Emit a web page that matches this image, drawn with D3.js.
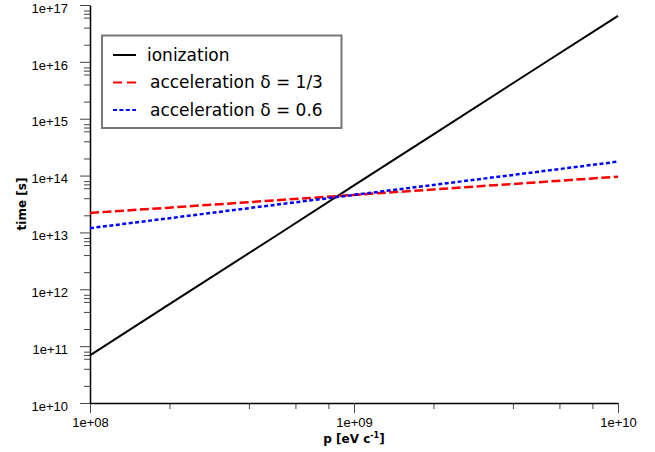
<!DOCTYPE html>
<html>
<head>
<meta charset="utf-8">
<script src="https://cdn.jsdelivr.net/npm/d3@7"></script>
<style>
  body { margin: 0; background: #fff; }
  svg { display: block; }
  .tick text { font-family: "Liberation Sans", Arial, sans-serif; font-size: 13px; fill: #000; }
  .axis-title { font-family: "DejaVu Sans", Verdana, sans-serif; font-size: 12px; font-weight: bold; }
  .legend text { font-family: "DejaVu Sans", Verdana, sans-serif; font-size: 17px; }
</style>
</head>
<body>
<svg id="chart" width="655" height="452"></svg>
<script>
'use strict';

// momentum values (eV/c)
const momentum = [1e8, 2e8, 5e8, 1e9, 2e9, 5e9, 1e10];

// time scales [s] for each process
const ionization = [6.9e10, 5.5e11, 8.4e12, 6.7e13, 5.3e14, 8.2e15, 6.45e16];
const accelThird = [2.2e13, 2.73e13, 3.66e13, 4.57e13, 5.7e13, 7.65e13, 9.55e13];
const accelSixTenths = [1.19e13, 1.78e13, 3.05e13, 4.57e13, 6.85e13, 1.17e14, 1.76e14];

const xTickValues = [1e8, 1e9, 1e10];
const xTickLabels = ['1e+08', '1e+09', '1e+10'];
const yTickValues = [1e10, 1e11, 1e12, 1e13, 1e14, 1e15, 1e16, 1e17];
const yTickLabels = ['1e+10', '1e+11', '1e+12', '1e+13', '1e+14', '1e+15', '1e+16', '1e+17'];

const seriesNames = ['ionization', 'acceleration δ = 1/3', 'acceleration δ = 0.6'];

const series = [
  {name: seriesNames[0], values: ionization, color: '#000', width: 2, dash: null, keyDash: null},
  {name: seriesNames[1], values: accelThird, color: '#ff0000', width: 2.5, dash: '9,3.5', keyDash: '9,5'},
  {name: seriesNames[2], values: accelSixTenths, color: '#0000ff', width: 2.5, dash: '4,2.5', keyDash: '4,2.4'}
];

const margin = {left: 90, right: 37, top: 5, bottom: 49};
const width = 655, height = 452;

const svg = d3.select('#chart');

const x = d3.scaleLog().domain([1e8, 1e10]).range([margin.left, width - margin.right]);
const y = d3.scaleLog().domain([1e10, 1e17]).range([height - margin.bottom, margin.top]);

// minor ticks inside each decade
function minorTicks(lo, hi, steps) {
  const out = [];
  for (let d = lo; d < hi; d *= 10) {
    steps.forEach(s => out.push(d * s));
  }
  return out;
}

const xMinor = minorTicks(1e8, 1e10, [2, 4, 6, 8]);
const yMinor = minorTicks(1e10, 1e17, [2, 4, 6, 7, 8]);

// minor ticks first
svg.append('g')
  .attr('transform', `translate(0,${y.range()[0]})`)
  .call(d3.axisBottom(x).tickValues(xMinor).tickSize(6).tickFormat(''))
  .call(g => g.select('.domain').remove())
  .call(g => g.selectAll('.tick line').attr('stroke', '#444'));

svg.append('g')
  .attr('transform', `translate(${x.range()[0]},0)`)
  .call(d3.axisLeft(y).tickValues(yMinor).tickSize(6).tickFormat(''))
  .call(g => g.select('.domain').remove())
  .call(g => g.selectAll('.tick line').attr('stroke', '#444'));

// major ticks + labels
svg.append('g')
  .attr('transform', `translate(0,${y.range()[0]})`)
  .call(d3.axisBottom(x).tickValues(xTickValues).tickSize(10).tickSizeOuter(0)
    .tickFormat((d, i) => xTickLabels[i]))
  .call(g => g.select('.domain').attr('stroke', '#000').attr('stroke-width', 1.5))
  .call(g => g.selectAll('.tick line').attr('stroke', '#444'))
  .call(g => g.selectAll('.tick text').attr('y', 15).attr('dy', '0.71em'));

svg.append('g')
  .attr('transform', `translate(${x.range()[0]},0)`)
  .call(d3.axisLeft(y).tickValues(yTickValues).tickSize(10).tickSizeOuter(0)
    .tickFormat((d, i) => yTickLabels[i]))
  .call(g => g.select('.domain').attr('stroke', '#000').attr('stroke-width', 1.5))
  .call(g => g.selectAll('.tick line').attr('stroke', '#444'))
  .call(g => g.selectAll('.tick text').attr('x', -22).attr('dy', '0.55em'));

// axis titles
svg.append('text')
  .attr('class', 'axis-title')
  .attr('text-anchor', 'middle')
  .attr('transform', `translate(26,${(y.range()[0] + y.range()[1]) / 2}) rotate(-90)`)
  .text('time [s]');

const xt = svg.append('text')
  .attr('class', 'axis-title')
  .attr('text-anchor', 'middle')
  .attr('x', (x.range()[0] + x.range()[1]) / 2)
  .attr('y', 443);
xt.append('tspan').text('p [eV c');
xt.append('tspan').attr('font-size', '8px').attr('dy', -5).text('-1');
xt.append('tspan').attr('dy', 5).text(']');

// lines
const line = d3.line()
  .x((d, i) => x(momentum[i]))
  .y(d => y(d));

svg.append('g')
  .selectAll('path')
  .data(series)
  .join('path')
  .attr('d', s => line(s.values))
  .attr('fill', 'none')
  .attr('stroke', s => s.color)
  .attr('stroke-width', s => s.width)
  .attr('stroke-dasharray', s => s.dash);

// legend
const legend = svg.append('g').attr('class', 'legend');
legend.append('rect')
  .attr('x', 102).attr('y', 35.5)
  .attr('width', 239.5).attr('height', 92.5)
  .attr('fill', '#fff')
  .attr('stroke', '#777')
  .attr('stroke-width', 2);

const items = legend.selectAll('g.item')
  .data(series)
  .join('g')
  .attr('class', 'item')
  .attr('transform', (d, i) => `translate(0,${55 + i * 27.5})`);

items.append('line')
  .attr('x1', 113).attr('x2', 136)
  .attr('stroke', d => d.color)
  .attr('stroke-width', 2)
  .attr('stroke-dasharray', d => d.keyDash);

items.append('text')
  .attr('x', (d, i) => i === 0 ? 147 : 150)
  .attr('dy', '0.35em')
  .text(d => d.name);
</script>
</body>
</html>
